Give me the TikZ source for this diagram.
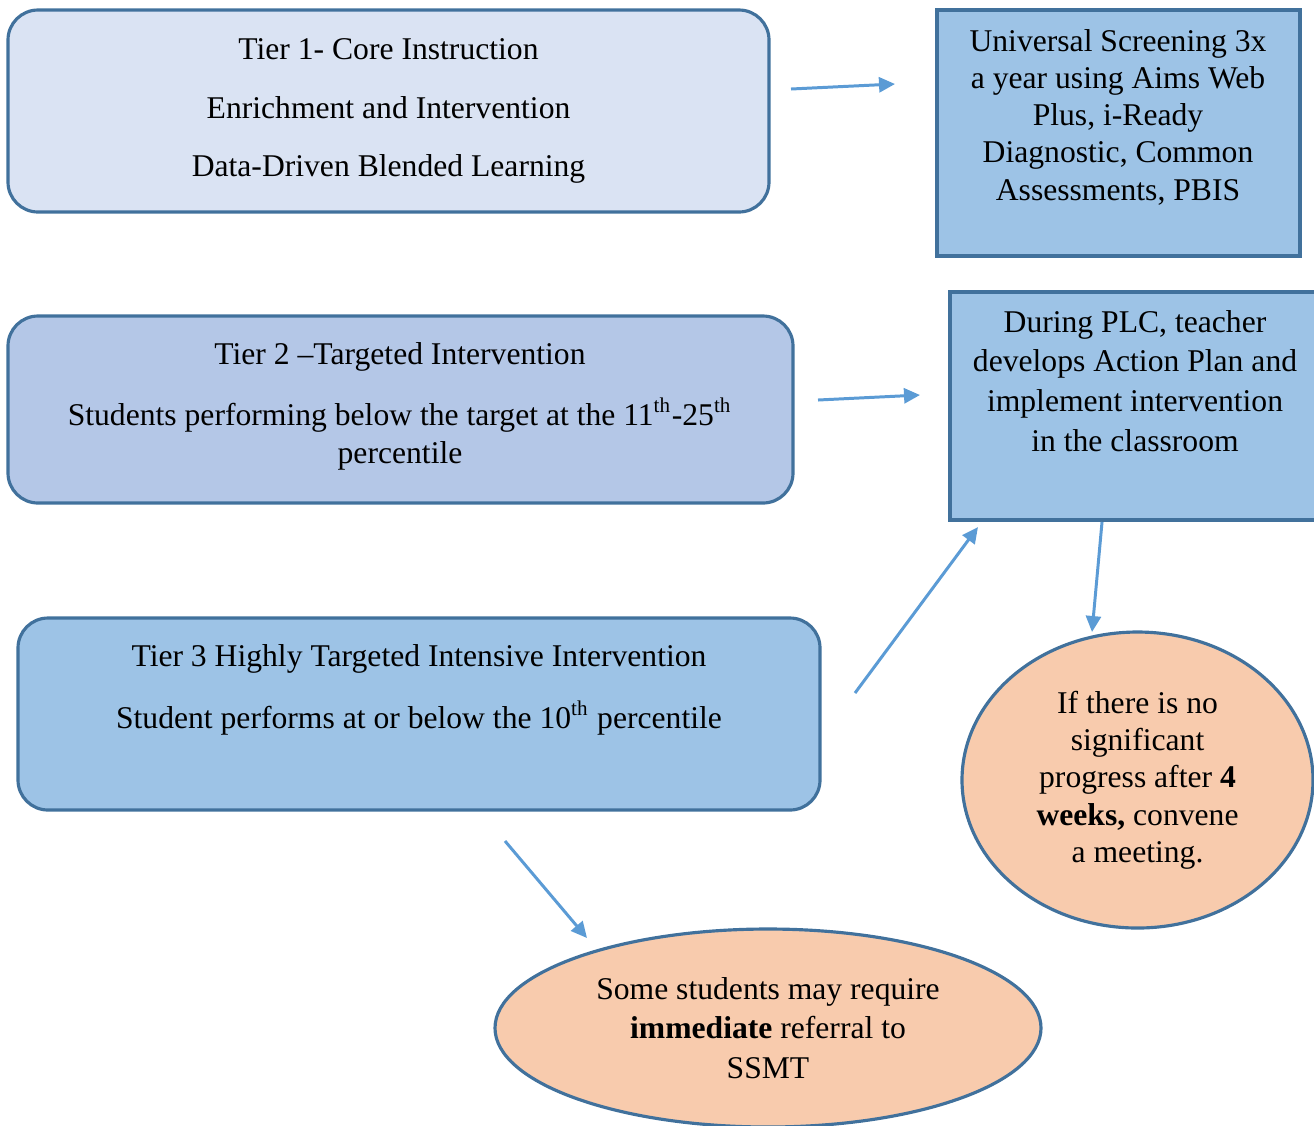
\documentclass[tikz,border=0pt]{standalone}
\usepackage{fontspec}
\setmainfont{Liberation Serif}
\usepackage{tikz}
\usetikzlibrary{arrows.meta,positioning,calc,shapes.geometric}
\definecolor{edgeblue}{HTML}{41719C}
\definecolor{arrowblue}{HTML}{5B9BD5}
\definecolor{tierone}{HTML}{DAE3F3}
\definecolor{tiertwo}{HTML}{B4C7E7}
\definecolor{tierthree}{HTML}{9DC3E6}
\definecolor{peach}{HTML}{F8CBAD}
\tikzset{
  tierbox/.style={draw=edgeblue, line width=0.9pt, rounded corners=0.3cm, align=center, inner sep=0pt, font=\fontsize{9}{10.6}\selectfont},
  sidebox/.style={draw=edgeblue, line width=0.9pt, fill=tierthree, inner sep=0pt},
  txt/.style={align=center, inner sep=0pt, font=\fontsize{9}{10.6}\selectfont},
  bubble/.style={ellipse, draw=edgeblue, line width=0.9pt, fill=peach, inner sep=0pt, align=center, font=\fontsize{9}{10.6}\selectfont},
  flowarrow/.style={-{Triangle[length=1.6mm,width=1.5mm]}, draw=arrowblue, line width=0.85pt}
}

\begin{document}
\begin{tikzpicture}
\useasboundingbox (0,0) rectangle (13.14,-11.25);
\clip (0,0) rectangle (13.14,-11.25);
% tiers
\node[tierbox, fill=tierone, minimum width=7.61cm, minimum height=2.02cm] (tier1) at (3.885,-1.11)
  {Tier 1- Core Instruction\\[6pt]Enrichment and Intervention\\[6pt]Data-Driven Blended Learning};
\node[tierbox, fill=tiertwo, minimum width=7.85cm, minimum height=1.87cm] (tier2) at (4.005,-4.095) {};
\node[txt] (tier2txt) at (4.0,-4.06)
  {Tier 2 --Targeted Intervention\\[7pt]Students performing below the target at the 11\textsuperscript{th}-25\textsuperscript{th}\\percentile};
\node[tierbox, fill=tierthree, minimum width=8.02cm, minimum height=1.92cm] (tier3) at (4.19,-7.14) {};
\node[txt] (tier3txt) at (4.19,-6.90)
  {Tier 3 Highly Targeted Intensive Intervention\\[7pt]Student performs at or below the 10\textsuperscript{th} percentile};
% right column
\node[sidebox, minimum width=3.63cm, minimum height=2.46cm] (screen) at (11.185,-1.33) {};
\node[txt] (screentxt) at (11.18,-1.17)
  {Universal Screening 3x\\a year using Aims Web\\Plus, i-Ready\\Diagnostic, Common\\Assessments, PBIS};
\node[sidebox, minimum width=4.0cm, minimum height=2.28cm] (plc) at (11.50,-4.06) {};
\node[txt, font=\fontsize{9}{11.3}\selectfont] (plctxt) at (11.35,-3.81)
  {During PLC, teacher\\develops Action Plan and\\implement intervention\\in the classroom};
% outcomes
\node[bubble, minimum width=3.51cm, minimum height=2.96cm] (weeks) at (11.375,-7.80)
  {If there is no\\significant\\progress after \textbf{4}\\\textbf{weeks,} convene\\a meeting.};
\node[bubble, minimum width=5.46cm, minimum height=1.98cm, font=\fontsize{9}{11.3}\selectfont] (ssmt) at (7.68,-10.28)
  {Some students may require\\\textbf{immediate} referral to\\SSMT};
% arrow ends
\coordinate (a1s) at (7.91,-0.89);
\coordinate (a1e) at (8.95,-0.84);
\coordinate (a2s) at (8.18,-4.00);
\coordinate (a2e) at (9.20,-3.95);
\coordinate (a3s) at (8.55,-6.93);
\coordinate (a3e) at (9.78,-5.27);
\coordinate (a4s) at (11.02,-5.22);
\coordinate (a4e) at (10.92,-6.32);
\coordinate (a5s) at (5.05,-8.41);
\coordinate (a5e) at (5.87,-9.38);
% arrows
\draw[flowarrow] (a1s) -- (a1e);
\draw[flowarrow] (a2s) -- (a2e);
\draw[flowarrow] (a3s) -- (a3e);
\draw[flowarrow] (a4s) -- (a4e);
\draw[flowarrow] (a5s) -- (a5e);
\end{tikzpicture}
\end{document}
